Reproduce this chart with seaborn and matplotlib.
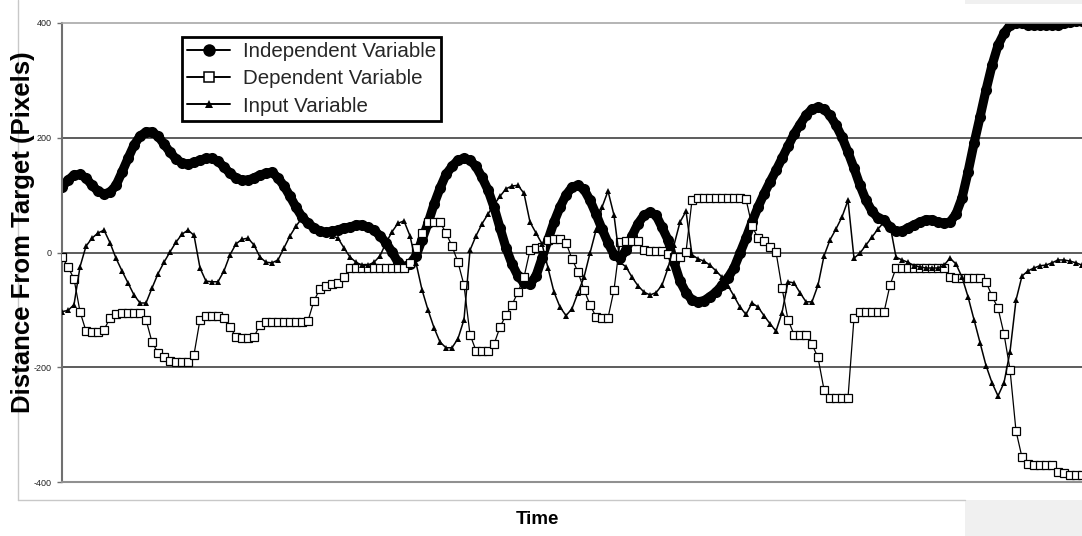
import matplotlib
matplotlib.use("Agg")
import matplotlib.pyplot as plt
import seaborn as sns
import pandas as pd
from matplotlib.lines import Line2D
from matplotlib.patches import Rectangle

sns.set_theme(style="white")
plt.rcParams["font.family"] = ["Liberation Sans", "DejaVu Sans"]

# ---------------- data ----------------
time_steps = list(range(171))

independent = [
    114, 126, 135, 136, 130, 117, 107, 102, 105, 117,
    140, 164, 187, 203, 210, 210, 203, 189, 175, 163,
    156, 154, 157, 161, 164, 164, 159, 149, 138, 130,
    126, 126, 130, 135, 138, 140, 130, 116, 98, 79,
    62, 51, 43, 37, 35, 37, 39, 43, 44, 48,
    48, 44, 39, 29, 17, 1, -17, -25, -20, -6,
    22, 51, 84, 112, 136, 150, 161, 164, 161, 150,
    131, 109, 79, 43, 8, -20, -41, -53, -55, -41,
    -10, 22, 53, 79, 100, 114, 117, 110, 91, 67,
    41, 17, -4, -10, 4, 29, 50, 65, 70, 65,
    44, 22, -17, -50, -70, -83, -86, -84, -77, -69,
    -57, -44, -27, -1, 25, 53, 79, 102, 123, 143,
    164, 185, 206, 223, 239, 250, 253, 250, 239, 222,
    201, 175, 147, 117, 91, 72, 60, 57, 44, 37,
    37, 43, 48, 53, 57, 57, 53, 51, 53, 67,
    95, 140, 190, 236, 283, 326, 361, 382, 396, 400,
    400, 397, 396, 396, 396, 397, 397, 400, 402, 403, 403,
]

dependent = [
    -8, -25, -46, -103, -137, -138, -138, -135, -114, -107,
    -105, -105, -105, -105, -117, -156, -175, -183, -189, -190,
    -190, -190, -178, -117, -110, -110, -110, -114, -130, -147,
    -149, -149, -147, -126, -121, -121, -121, -121, -121, -121,
    -121, -119, -84, -63, -58, -55, -53, -43, -27, -27,
    -27, -27, -27, -27, -27, -27, -27, -27, -18, 8,
    34, 53, 53, 53, 34, 11, -17, -57, -143, -171,
    -171, -171, -160, -130, -109, -91, -69, -43, 4, 8,
    10, 22, 23, 23, 17, -11, -34, -65, -91, -112,
    -114, -114, -65, 18, 20, 20, 20, 4, 3, 3,
    3, -3, -8, -8, 1, 91, 95, 95, 95, 95,
    95, 95, 95, 95, 93, 46, 25, 20, 10, 1,
    -62, -117, -143, -143, -143, -160, -183, -239, -253, -253,
    -253, -253, -114, -104, -104, -104, -104, -104, -57, -27,
    -27, -27, -27, -27, -27, -27, -27, -27, -43, -44,
    -44, -44, -44, -44, -51, -76, -97, -142, -204, -311,
    -357, -368, -370, -370, -370, -371, -382, -385, -387, -387, -387,
]

input_var = [
    -103, -101, -91, -25, 11, 25, 34, 39, 17, -10,
    -32, -53, -74, -88, -88, -62, -37, -17, 1, 18,
    32, 39, 30, -27, -50, -51, -51, -32, -4, 15,
    23, 25, 13, -8, -17, -18, -13, 8, 29, 46,
    60, 53, 43, 36, 32, 29, 25, 8, -8, -17,
    -22, -22, -17, -6, 17, 36, 51, 55, 29, -18,
    -65, -100, -131, -156, -166, -166, -150, -117, 4, 29,
    50, 67, 83, 98, 111, 116, 117, 103, 53, 34,
    15, -27, -69, -95, -110, -98, -70, -43, -1, 39,
    79, 107, 65, -17, -25, -43, -58, -69, -74, -70,
    -57, -27, 13, 53, 72, -4, -11, -15, -22, -32,
    -43, -58, -76, -95, -108, -88, -95, -110, -124, -137,
    -105, -51, -53, -70, -86, -86, -57, -6, 22, 41,
    62, 91, -10, -1, 13, 27, 41, 53, 48, -8,
    -13, -17, -23, -25, -27, -27, -27, -22, -10, -20,
    -43, -77, -117, -157, -197, -227, -250, -227, -173, -83,
    -41, -32, -27, -23, -22, -18, -13, -13, -15, -18, -22,
]

series_names = ["Independent Variable", "Dependent Variable", "Input Variable"]
y_ticks = [-400, -200, 0, 200, 400]
y_tick_labels = ["-400", "-200", "0", "200", "400"]
x_label = "Time"
y_label = "Distance From Target (Pixels)"

# ---------------- figure ----------------
W, H = 1082, 536
fig = plt.figure(figsize=(W / 100, H / 100), dpi=100)
fig.patch.set_facecolor("white")

ax = fig.add_axes([62 / W, 1 - 482 / H, 1 - 62 / W, (482 - 23) / H])
ax.set_facecolor("white")

df = pd.DataFrame({"t": time_steps, "indep": independent,
                   "dep": dependent, "inp": input_var})

# gridlines
for gy in [200, 0, -200]:
    ax.axhline(gy, color="#303030", lw=1.1, zorder=0.5)

sns.lineplot(data=df, x="t", y="indep", ax=ax, color="black", lw=6.6,
             marker="o", markersize=8.0, markeredgewidth=0,
             estimator=None, sort=False, legend=False, zorder=2,
             solid_joinstyle="round", solid_capstyle="round")
sns.lineplot(data=df, x="t", y="dep", ax=ax, color="black", lw=0.9,
             marker="s", markersize=5.4, markerfacecolor="white",
             markeredgecolor="black", markeredgewidth=0.9,
             estimator=None, sort=False, legend=False, zorder=3)
sns.lineplot(data=df, x="t", y="inp", ax=ax, color="black", lw=1.1,
             marker="^", markersize=5.0, markeredgewidth=0,
             estimator=None, sort=False, legend=False, zorder=4)

ax.set_xlim(time_steps[0], time_steps[-1])
ax.set_ylim(-400, 400)
ax.set_xticks([])
ax.set_yticks(y_ticks)
ax.set_yticklabels(y_tick_labels)
ax.set_xlabel("")
ax.set_ylabel("")
ax.tick_params(axis="y", direction="out", length=3.5, width=1,
               color="#707070", labelsize=6.5, pad=4, labelcolor="#222222",
               left=True)

ax.spines["left"].set_color("#707070")
ax.spines["left"].set_linewidth(1.5)
ax.spines["bottom"].set_color("#909090")
ax.spines["bottom"].set_linewidth(1.5)
ax.spines["top"].set_color("#a8a8a8")
ax.spines["top"].set_linewidth(1.2)
ax.spines["right"].set_visible(False)

# legend
handles = [
    Line2D([], [], color="black", lw=1.4, marker="o", markersize=9,
           markeredgewidth=0),
    Line2D([], [], color="black", lw=1.4, marker="s", markersize=6.5,
           markerfacecolor="white", markeredgecolor="black",
           markeredgewidth=1.1),
    Line2D([], [], color="black", lw=1.4, marker="^", markersize=6,
           markeredgewidth=0),
]
leg = ax.legend(handles, series_names, loc="upper left",
                bbox_to_anchor=((182 - 62) / 1020, (482 - 37) / 459),
                bbox_transform=ax.transAxes, frameon=True, fancybox=False,
                edgecolor="black", fontsize=14.8, handlelength=2.1,
                handletextpad=0.6, borderpad=0.25, labelspacing=0.4,
                borderaxespad=0, framealpha=1)
leg.get_frame().set_linewidth(2)
leg.set_zorder(10)

# axis titles
fig.text(23 / W, 1 - 232 / H, y_label, rotation=90, ha="center",
         va="center", fontsize=18.5, fontweight="bold", color="black")
fig.text(537 / W, 1 - 520 / H, x_label, ha="center", va="center",
         fontsize=13.5, fontweight="bold", color="black")

# chart-area border remnants
fig.add_artist(Line2D([18 / W, 18 / W], [1, 1 - 500 / H], color="#c8c8c8",
                      lw=1, transform=fig.transFigure))
fig.add_artist(Line2D([18 / W, 965 / W], [1 - 500 / H, 1 - 500 / H],
                      color="#c8c8c8", lw=1, transform=fig.transFigure))
fig.add_artist(Rectangle((965 / W, 0), (W - 965) / W, 36 / H,
                         transform=fig.transFigure, color="#f0f0f0", lw=0))
fig.add_artist(Rectangle((965 / W, 1 - 4 / H), (W - 965) / W, 4 / H,
                         transform=fig.transFigure, color="#f0f0f0", lw=0))

fig.savefig("out.png", dpi=100)
